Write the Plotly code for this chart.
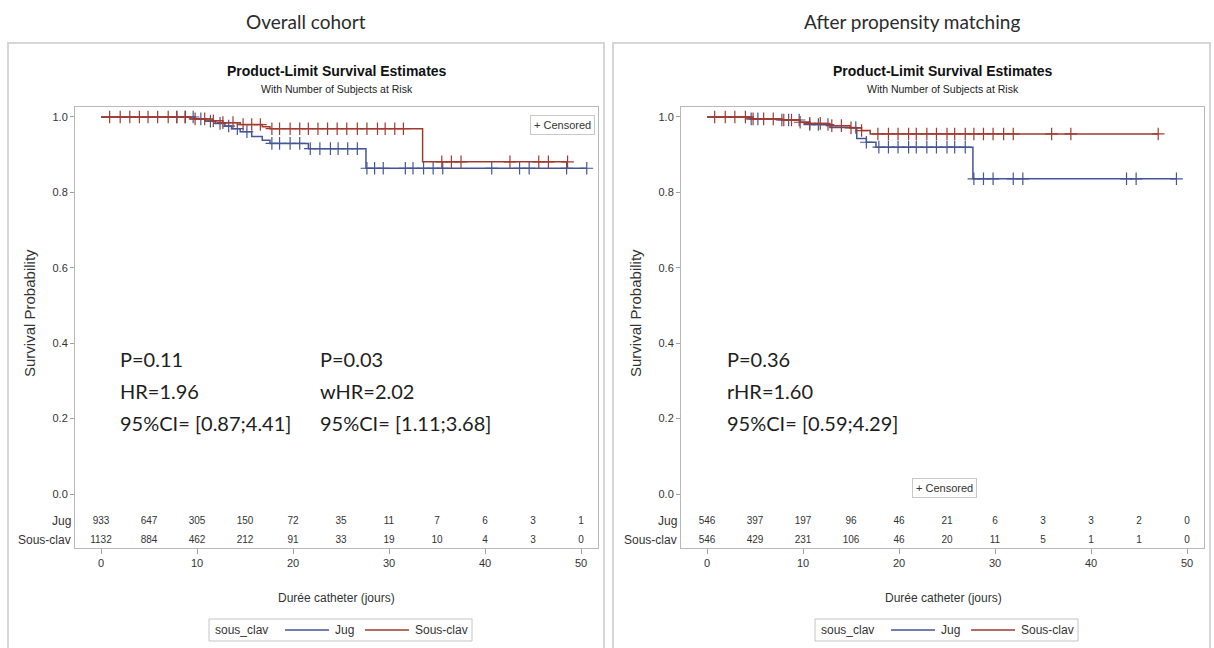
import plotly.graph_objects as go

W, H = 1214, 648
NARROW = "Liberation Sans Narrow, Arial Narrow, Liberation Sans, Arial, sans-serif"
CAL = "Lato, Carlito, Calibri, sans-serif"
BLUE = "#445694"
RED = "#A23A2E"

# ---------------- data ----------------
risk_times = [0, 5, 10, 15, 20, 25, 30, 35, 40, 45, 50]

# Overall cohort
L_jug_t = [0, 9.8, 10.9, 11.9, 12.9, 13.6, 14.5, 15.7, 16.8, 17.6, 21.6, 27.6]
L_jug_s = [1.0, 0.995, 0.989, 0.983, 0.976, 0.969, 0.961, 0.948, 0.938, 0.930, 0.916, 0.864]
L_jug_end = 50.6
L_jug_cens = [7.9, 8.8, 9.6, 10.4, 11.4, 12.4, 13.3, 14.2, 15.2, 17.8, 18.6, 19.7, 20.7,
              21.8, 22.8, 23.9, 24.7, 25.7, 26.7, 27.7, 28.5, 29.4, 31.7, 32.5, 33.6,
              34.6, 35.6, 40.7, 43.6, 44.6, 48.5, 50.6]
L_sc_t = [0, 9.3, 11.6, 12.7, 14.5, 16.8, 17.6, 33.5]
L_sc_s = [1.0, 0.995, 0.990, 0.985, 0.980, 0.974, 0.969, 0.881]
L_sc_end = 48.6
L_sc_cens = [0.9, 2.0, 3.0, 4.0, 4.9, 5.9, 7.0, 7.9, 8.75, 9.8, 10.8, 11.7, 12.7, 13.75,
             14.8, 15.7, 16.6, 17.8, 18.6, 19.7, 20.7, 21.6, 22.6, 23.6, 24.6, 25.6,
             26.7, 27.7, 28.8, 29.6, 30.6, 31.5, 35.5, 36.5, 37.5, 42.6, 45.6, 46.6, 48.6]
L_risk_jug = [933, 647, 305, 150, 72, 35, 11, 7, 6, 3, 1]
L_risk_sc = [1132, 884, 462, 212, 91, 33, 19, 10, 4, 3, 0]

# After propensity matching
R_jug_t = [0, 4.5, 7.8, 9.7, 10.7, 12.8, 15.6, 16.6, 17.6, 27.7]
R_jug_s = [1.0, 0.995, 0.992, 0.986, 0.980, 0.972, 0.943, 0.933, 0.920, 0.836]
R_jug_end = 48.9
R_jug_cens = [4.6, 5.3, 7.8, 8.5, 9.6, 10.7, 11.6, 12.6, 15.5, 16.6, 17.9, 18.9, 19.9,
              21.0, 21.8, 22.9, 23.9, 25.0, 25.8, 26.9, 27.8, 28.8, 29.8, 31.9, 32.9,
              43.7, 44.7, 48.9]
R_sc_t = [0, 4.8, 7.8, 9.7, 10.7, 12.8, 14.9, 16.1, 17.0]
R_sc_s = [1.0, 0.995, 0.992, 0.986, 0.983, 0.977, 0.971, 0.964, 0.955]
R_sc_end = 47.0
R_sc_cens = [0.8, 1.9, 2.9, 4.0, 4.8, 5.9, 6.9, 8.0, 8.8, 9.7, 10.7, 11.8, 13.0, 14.0,
             15.0, 16.1, 17.8, 18.9, 19.9, 21.0, 21.8, 22.9, 23.9, 25.0, 25.8, 26.9,
             27.8, 28.8, 29.8, 30.9, 31.9, 35.9, 37.9, 47.0]
R_risk_jug = [546, 397, 197, 96, 46, 21, 6, 3, 3, 2, 0]
R_risk_sc = [546, 429, 231, 106, 46, 20, 11, 5, 1, 1, 0]

panel_titles = ["Overall cohort", "After propensity matching"]
stats_left_a = ["P=0.11", "HR=1.96", "95%CI= [0.87;4.41]"]
stats_left_b = ["P=0.03", "wHR=2.02", "95%CI= [1.11;3.68]"]
stats_right = ["P=0.36", "rHR=1.60", "95%CI= [0.59;4.29]"]
group_names = ["Jug", "Sous-clav"]
group_colors = [BLUE, RED]
legend_title = "sous_clav"


def px(x):
    return x / W


def py(y):
    return 1 - y / H


def surv_at(times, surv, t):
    s = surv[0]
    for ti, si in zip(times, surv):
        if ti <= t:
            s = si
    return s


fig = go.Figure()

ROW_JUG = -0.0716
ROW_SC = -0.122

panels = [
    dict(xa="x", ya="y",
         groups=[(L_jug_t, L_jug_s, L_jug_end, L_jug_cens),
                 (L_sc_t, L_sc_s, L_sc_end, L_sc_cens)],
         risk=(L_risk_jug, L_risk_sc)),
    dict(xa="x2", ya="y2",
         groups=[(R_jug_t, R_jug_s, R_jug_end, R_jug_cens),
                 (R_sc_t, R_sc_s, R_sc_end, R_sc_cens)],
         risk=(R_risk_jug, R_risk_sc)),
]

for p in panels:
    for (t, s, end, cens), name, col in zip(p["groups"], group_names, group_colors):
        xs = list(t) + [end]
        ys = list(s) + [s[-1]]
        fig.add_trace(go.Scatter(x=xs, y=ys, mode="lines", line=dict(color=col, width=1.5, shape="hv"),
                                 name=name, xaxis=p["xa"], yaxis=p["ya"], showlegend=False,
                                 hoverinfo="skip"))
        fig.add_trace(go.Scatter(x=cens, y=[surv_at(t, s, c) for c in cens], mode="markers",
                                 marker=dict(symbol="cross-thin", size=9, line=dict(color=col, width=1.2)),
                                 showlegend=False, xaxis=p["xa"], yaxis=p["ya"], hoverinfo="skip"))
    for vals, row in zip(p["risk"], (ROW_JUG, ROW_SC)):
        fig.add_trace(go.Scatter(x=risk_times, y=[row] * len(risk_times), mode="text",
                                 text=[str(v) for v in vals],
                                 textfont=dict(family=NARROW, size=10, color="#333333"),
                                 showlegend=False, xaxis=p["xa"], yaxis=p["ya"], hoverinfo="skip",
                                 cliponaxis=False))

xr = [-2.708, 51.77]
yr = [-0.1432, 1.0265]
ydom = [py(548), py(107)]
common_x = dict(range=xr, tickvals=[0, 10, 20, 30, 40, 50], ticks="outside", ticklen=5,
                tickcolor="#a0a0a0", showline=True, mirror=True, linecolor="#b8b8b8", linewidth=1,
                showgrid=False, zeroline=False,
                tickfont=dict(family=NARROW, size=11, color="#333333"))
common_y = dict(range=yr, domain=ydom, tickvals=[0, 0.2, 0.4, 0.6, 0.8, 1.0],
                ticktext=["0.0", "0.2", "0.4", "0.6", "0.8", "1.0"], ticks="outside", ticklen=4,
                tickcolor="#a0a0a0", showline=True, mirror=True, linecolor="#b8b8b8", linewidth=1,
                showgrid=False, zeroline=False,
                tickfont=dict(family=NARROW, size=11, color="#333333"))

fig.update_layout(
    width=W, height=H, margin=dict(l=0, r=0, t=0, b=0),
    paper_bgcolor="white", plot_bgcolor="white", showlegend=False,
    xaxis=dict(domain=[px(75), px(598)], anchor="y", **common_x),
    yaxis=dict(anchor="x", **common_y),
    xaxis2=dict(domain=[px(681), px(1204)], anchor="y2", **common_x),
    yaxis2=dict(anchor="x2", **common_y),
)


def P(txt, x, y, size, family=NARROW, color="#333333", xanchor="center", **kw):
    return dict(text=txt, x=px(x), y=py(y), xref="paper", yref="paper", showarrow=False,
                xanchor=xanchor, yanchor="middle", font=dict(family=family, size=size, color=color), **kw)


shapes = []
ann = []
for x0, x1 in [(8, 604), (613, 1210)]:
    shapes.append(dict(type="rect", xref="paper", yref="paper", x0=px(x0), x1=px(x1),
                       y0=-0.02, y1=py(43), line=dict(color="#d6d6d6", width=2)))

for title, cx in zip(panel_titles, (306, 912)):
    ann.append(P(title, cx, 21, 19, family=CAL, color="#2b2b2b"))

for off, xa, ya in [(0, "x", "y"), (606, "x2", "y2")]:
    cx = 337 + off
    ann.append(P("<b>Product-Limit Survival Estimates</b>", cx, 71, 14, color="#111111"))
    ann.append(P("With Number of Subjects at Risk", cx, 89, 10.5, color="#222222"))
    ann.append(P("Durée catheter (jours)", cx, 598, 12))
    ann.append(P("Survival Probability", 29 + off, 313, 15, textangle=-90))
    for lab, row in zip(group_names, (ROW_JUG, ROW_SC)):
        ann.append(dict(text=lab, x=0, xref=xa + " domain", y=row, yref=ya, xanchor="right",
                        yanchor="middle", xshift=-2, showarrow=False,
                        font=dict(family=NARROW, size=12, color="#333333")))
    # bottom legend box
    shapes.append(dict(type="rect", xref="paper", yref="paper", x0=px(209 + off), x1=px(472 + off),
                       y0=py(641), y1=py(619), line=dict(color="#c4c4c4", width=1), fillcolor="white"))
    ann.append(P(legend_title, 213 + off, 630, 12, xanchor="left"))
    for (lx0, lx1, tx), name, col in zip([(285, 329, 333), (365, 409, 413)], group_names, group_colors):
        shapes.append(dict(type="line", xref="paper", yref="paper", x0=px(lx0 + off), x1=px(lx1 + off),
                           y0=py(630), y1=py(630), line=dict(color=col, width=1.5)))
        ann.append(P(name, tx + off, 630, 12, xanchor="left"))

for lines, x0 in ((stats_left_a, 118), (stats_left_b, 318), (stats_right, 725)):
    for txt, yy in zip(lines, (359, 391, 423)):
        ann.append(P(txt, x0, yy, 20, family=CAL, color="#1e1e1e", xanchor="left"))

for cx, cy in ((562, 125), (944, 488)):
    ann.append(P("+ Censored", cx, cy, 11, bordercolor="#c8c8c8", borderwidth=1, borderpad=3,
                 bgcolor="white"))

fig.update_layout(annotations=ann, shapes=shapes)

fig.write_html("out.html")
